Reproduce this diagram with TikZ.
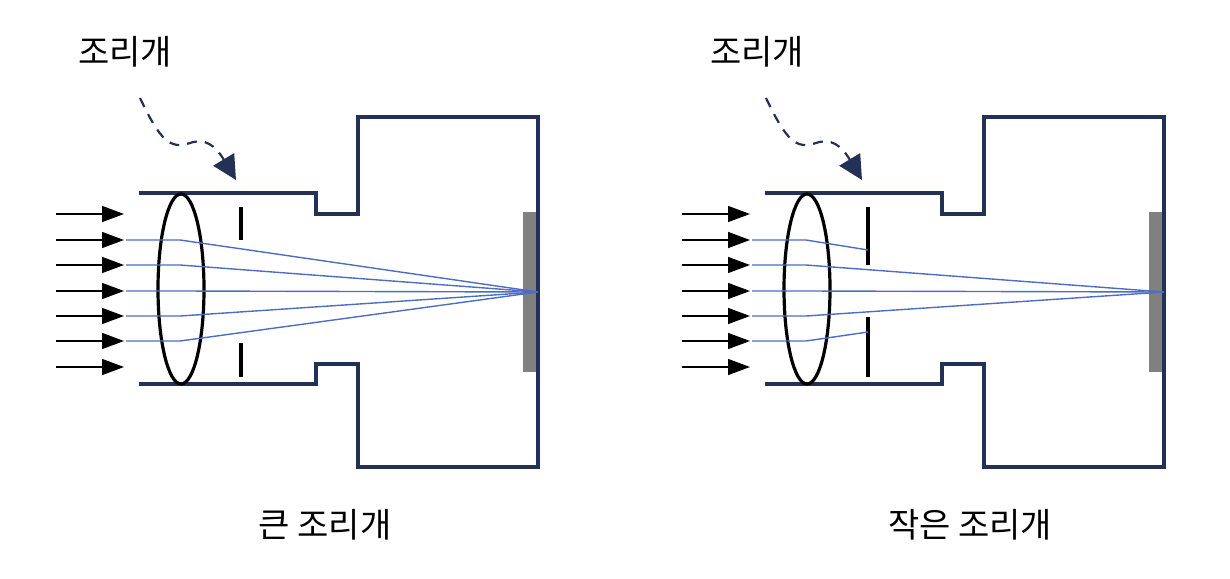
\documentclass[tikz,border=0pt]{standalone}
\usepackage{fontspec}
\setmainfont{Noto Sans CJK KR}
\usetikzlibrary{arrows.meta}
\definecolor{navy}{HTML}{243156}
\definecolor{ray}{HTML}{4F6CC4}
\definecolor{sens}{HTML}{808080}
\tikzset{
  wall/.style={navy,line width=1.6pt},
  lensline/.style={black,line width=1.6pt},
  stopbar/.style={black,line width=1.6pt},
  inarrow/.style={black,line width=0.7pt,-{Triangle[length=11pt,width=8pt]}},
  rayline/.style={ray,line width=0.7pt},
  pointer/.style={navy,line width=1.1pt,dashed,dash pattern=on 5pt off 4pt,-{Triangle[length=12pt,width=12pt]}},
  lbl/.style={font=\fontsize{17}{20}\selectfont,inner sep=0pt}
}
\begin{document}
\begin{tikzpicture}[x=0.5pt,y=-0.5pt]
\useasboundingbox (0,0) rectangle (1230,578);
\foreach \dx/\name/\small in {0/L/0,626/R/1}{
\begin{scope}[xshift=\dx*0.5pt]
  \draw[wall] (139,193) -- (316,193) -- (316,214) -- (358,214) -- (358,117) -- (538,117) -- (538,467) -- (358,467) -- (358,364) -- (316,364) -- (316,384) -- (139,384);
  \draw[lensline] (181,289) ellipse [x radius=23, y radius=95];
  \fill[sens] (523,212) rectangle (536,372);
  \coordinate (F\name) at (538,292);
  \foreach \y in {214,240,265,291,316,341,367}{\draw[inarrow] (56,\y) -- (124,\y);}
  \draw[pointer] (140,98) .. controls (160,140) and (170,150) .. (190,143) .. controls (205,138) and (215,145) .. (236,180);
\end{scope}
}
% left stop
\draw[stopbar] (241,207) -- (241,240);
\draw[stopbar] (241,343) -- (241,377);
\foreach \y in {240,265,291,316,341}{\draw[rayline] (126,\y) -- (180,\y) -- (FL);}
% right stop
\draw[stopbar] (868,207) -- (868,265);
\draw[stopbar] (868,317) -- (868,377);
\foreach \y in {265,291,316}{\draw[rayline] (752,\y) -- (806,\y) -- (FR);}
\draw[rayline] (752,240) -- (806,240) -- (868,250);
\draw[rayline] (752,341) -- (806,341) -- (868,332);
\node[lbl] (t1) at (125,52) {조리개};
\node[lbl] (t2) at (757,52) {조리개};
\node[lbl] (c1) at (325,525) {큰 조리개};
\node[lbl] (c2) at (970,525) {작은 조리개};
\end{tikzpicture}
\end{document}
